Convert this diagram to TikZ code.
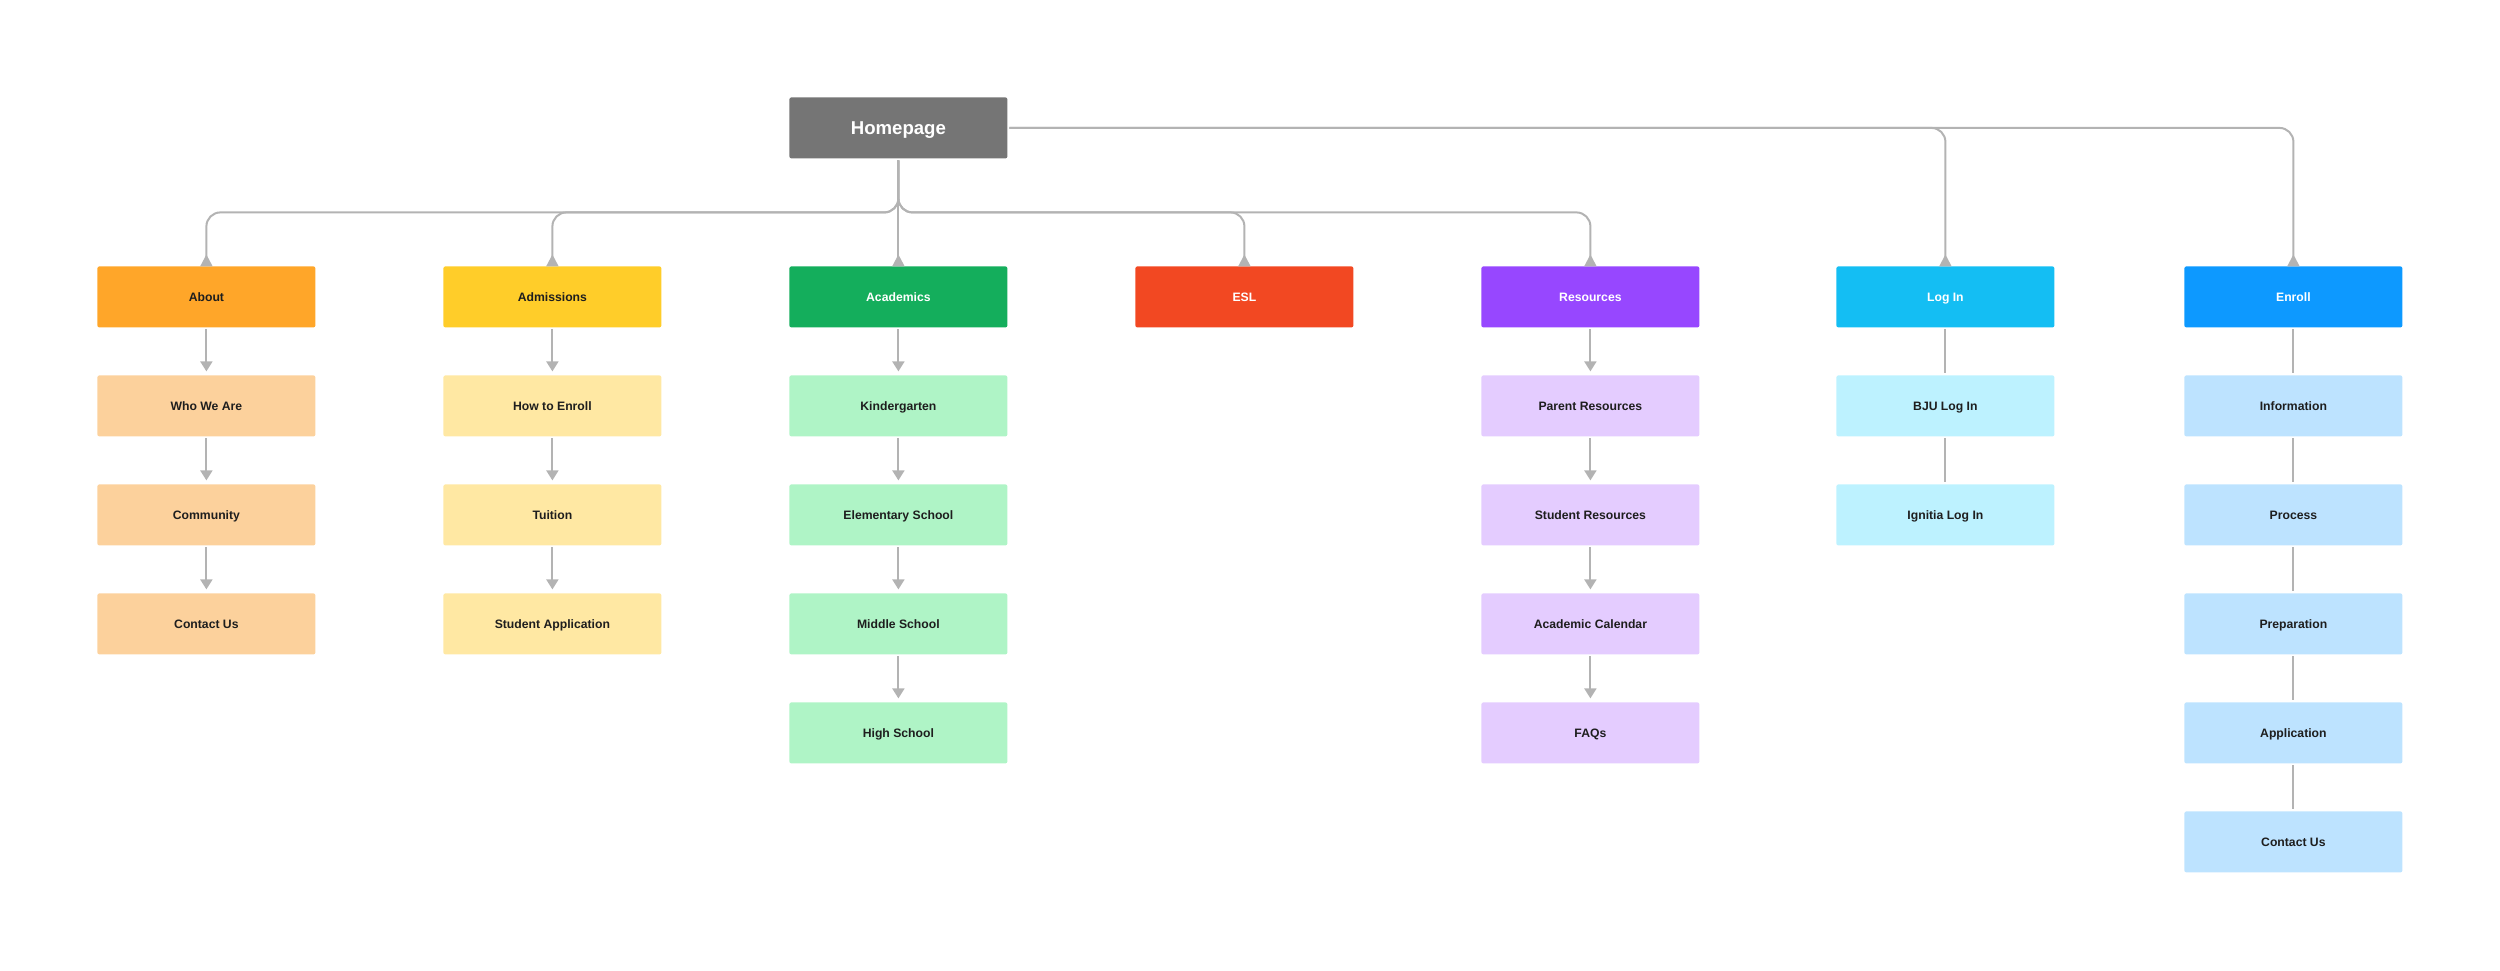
\documentclass[tikz,border=0pt]{standalone}
\usepackage{fontspec}
\setmainfont{Liberation Sans}
\usepackage{tikz}
\usetikzlibrary{matrix,positioning,calc,arrows.meta}

\definecolor{ink}{HTML}{1E1E1E}
\definecolor{linegray}{HTML}{B3B3B3}
\definecolor{homegray}{HTML}{757575}
\definecolor{orangemain}{HTML}{FFA629}
\definecolor{orangelight}{HTML}{FCD19C}
\definecolor{yellowmain}{HTML}{FFCD29}
\definecolor{yellowlight}{HTML}{FFE8A3}
\definecolor{greenmain}{HTML}{14AE5C}
\definecolor{greenlight}{HTML}{AFF4C6}
\definecolor{redmain}{HTML}{F24822}
\definecolor{violetmain}{HTML}{9747FF}
\definecolor{violetlight}{HTML}{E4CCFF}
\definecolor{cyanmain}{HTML}{14BEF3}
\definecolor{cyanlight}{HTML}{BDF2FF}
\definecolor{bluemain}{HTML}{0D99FF}
\definecolor{bluelight}{HTML}{BDE3FF}

\tikzset{
  box/.style={rectangle, rounded corners=1pt, minimum width=109pt,
    minimum height=30.5pt, inner sep=0pt, outer sep=0pt, text=ink,
    anchor=center, text height=4.4pt, text depth=0pt,
    font=\fontsize{6.1}{7}\selectfont\bfseries},
  head/.style={box, fill=#1, text=white},
  darkhead/.style={box, fill=#1},
  sub/.style={box, fill=#1},
  home/.style={box, fill=homegray, text=white, text height=6.7pt,
    font=\fontsize{9.3}{11}\selectfont\bfseries},
  link/.style={draw=linegray, line width=1pt},
  up/.style={link, rounded corners=7pt, shorten <=1pt,
    -{Triangle[reversed, width=6pt, length=6pt]}},
  down/.style={link, shorten <=1pt, shorten >=2pt,
    -{Triangle[width=6pt, length=5pt]}},
  plain/.style={link, shorten <=1pt, shorten >=1pt}
}

\begin{document}
\begin{tikzpicture}[x=0.5pt, y=0.5pt]
  \useasboundingbox (0,0) rectangle (2500,-970);

  \matrix [%
    matrix of nodes,
    nodes={box},
    column sep=64pt,
    row sep=24pt,
    inner sep=0pt,
    anchor=north west
  ] (sitemap) at (97,-266) {%
  |[darkhead=orangemain]| About & |[darkhead=yellowmain]| Admissions & |[head=greenmain]| Academics & |[head=redmain]| ESL & |[head=violetmain]| Resources &[4.5pt] |[head=cyanmain]| Log In &[1pt] |[head=bluemain]| Enroll\\
  |[sub=orangelight]| Who We Are & |[sub=yellowlight]| How to Enroll & |[sub=greenlight]| Kindergarten & & |[sub=violetlight]| Parent Resources & |[sub=cyanlight]| BJU Log In & |[sub=bluelight]| Information\\
  |[sub=orangelight]| Community & |[sub=yellowlight]| Tuition & |[sub=greenlight]| Elementary School & & |[sub=violetlight]| Student Resources & |[sub=cyanlight]| Ignitia Log In & |[sub=bluelight]| Process\\
  |[sub=orangelight]| Contact Us & |[sub=yellowlight]| Student Application & |[sub=greenlight]| Middle School & & |[sub=violetlight]| Academic Calendar & & |[sub=bluelight]| Preparation\\
  & & |[sub=greenlight]| High School & & |[sub=violetlight]| FAQs & & |[sub=bluelight]| Application\\
  & & & & & & |[sub=bluelight]| Contact Us\\
  };

  \node[home, above=54pt of sitemap-1-3] (home) {Homepage};
  \coordinate (bus) at ($(home.south)!0.5!(sitemap-1-3.north)$);

  % homepage to the top row
  \draw[up] (home.south) -- (sitemap-1-3.north);
  \foreach \c in {1,2,4,5}
    \draw[up] (home.south) -- (home.south |- bus)
      -- (sitemap-1-\c.north |- bus) -- (sitemap-1-\c.north);
  \foreach \c in {6,7}
    \draw[up] (home.east) -- (home.east -| sitemap-1-\c.north)
      -- (sitemap-1-\c.north);

  % columns with arrows
  \foreach \c/\n in {1/3, 2/3, 3/4, 5/4}
    \foreach \r in {1,...,\n} {
      \pgfmathtruncatemacro\nextrow{\r+1}
      \draw[down] (sitemap-\r-\c.south) -- (sitemap-\nextrow-\c.north);
    }

  % columns without arrows
  \foreach \c/\n in {6/2, 7/5}
    \foreach \r in {1,...,\n} {
      \pgfmathtruncatemacro\nextrow{\r+1}
      \draw[plain] (sitemap-\r-\c.south) -- (sitemap-\nextrow-\c.north);
    }
\end{tikzpicture}
\end{document}
